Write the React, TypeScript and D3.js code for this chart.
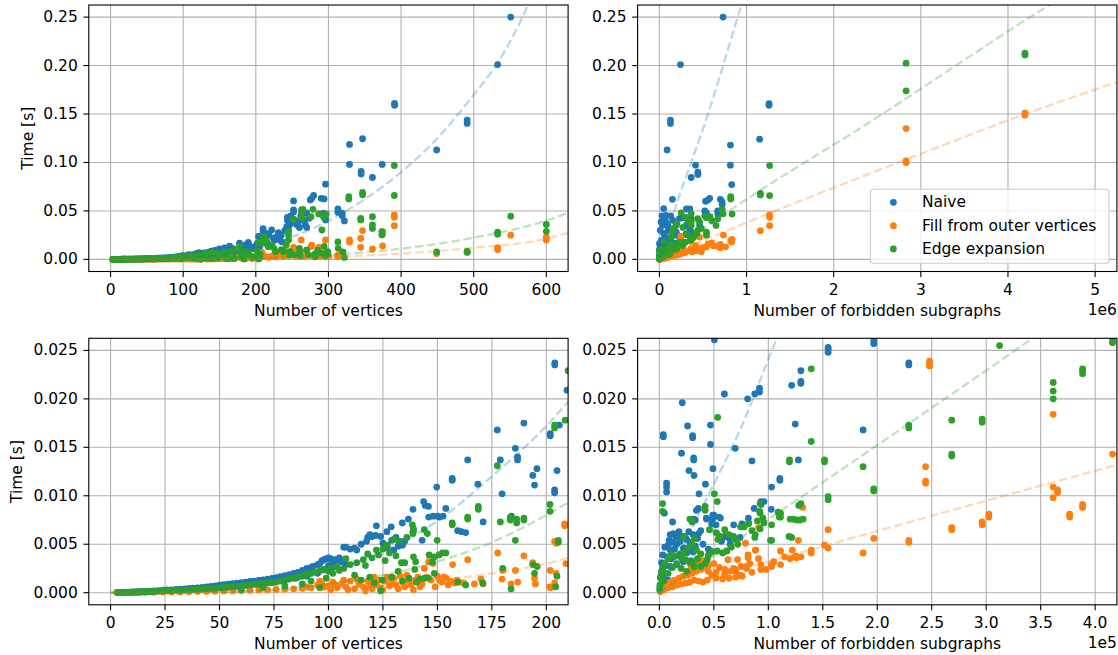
import * as d3 from "d3";

type Pt = [number, number];

// ---- axis ticks ----
const vertTicksFull = [0, 100, 200, 300, 400, 500, 600];
const vertTicksZoom = [0, 25, 50, 75, 100, 125, 150, 175, 200];
const forbTicksFull = [0, 1e6, 2e6, 3e6, 4e6, 5e6];
const forbTicksZoom = [0, 50000, 100000, 150000, 200000, 250000, 300000, 350000, 400000];
const timeTicksFull = [0, 0.05, 0.1, 0.15, 0.2, 0.25];
const timeTicksZoom = [0, 0.005, 0.01, 0.015, 0.02, 0.025];

const seriesNames = ["Naive", "Fill from outer vertices", "Edge expansion"];

// ---- time vs number of vertices ----
const vertNaive: Pt[] = [
  [3, 0.00002], [4, 0.00002], [5, 0.00003], [6, 0.00003], [7, 0.00004], [8, 0.00005], [9, 0.00006], [10, 0.00007],
  [11, 0.00008], [12, 0.00009], [13, 0.0001], [14, 0.00011], [15, 0.00012], [16, 0.00013], [17, 0.00014], [18, 0.00016],
  [19, 0.00017], [20, 0.00019], [22, 0.00022], [24, 0.00025], [26, 0.00028], [28, 0.0003], [30, 0.00033], [32, 0.00036],
  [34, 0.0004], [36, 0.00043], [38, 0.00047], [40, 0.0005], [42, 0.00055], [44, 0.0006], [46, 0.00065], [48, 0.0007],
  [50, 0.00078], [52, 0.00083], [54, 0.00088], [56, 0.00093], [58, 0.00098], [60, 0.00104], [62, 0.0011], [64, 0.00116],
  [66, 0.0012], [68, 0.00127], [70, 0.00133], [72, 0.0014], [74, 0.00148], [76, 0.00156], [78, 0.00165], [80, 0.00175],
  [82, 0.00185], [84, 0.002], [86, 0.0021], [88, 0.0023], [90, 0.0025], [92, 0.0026], [93, 0.0027], [95, 0.0029],
  [96, 0.003], [97, 0.0033], [98, 0.0034], [99, 0.0035], [100, 0.0036], [101, 0.0035], [102, 0.0031],
  [60, 0.0007], [70, 0.0009], [75, 0.0011], [80, 0.0013], [85, 0.0015], [90, 0.0017], [95, 0.002], [98, 0.0024],
  [100, 0.0028], [103, 0.0027], [104, 0.003], [105, 0.0034], [106, 0.0032], [107, 0.0047], [108, 0.0047], [110, 0.0045],
  [112, 0.0046], [103, 0.0034], [105, 0.0036], [108, 0.0029], [113, 0.0044], [115, 0.005], [117.5, 0.0053], [118, 0.0057],
  [119, 0.006], [120, 0.0058], [121.6, 0.0059], [122, 0.0069], [124, 0.0058], [125, 0.0051], [126.8, 0.0063], [127, 0.0046],
  [128.8, 0.0068], [129, 0.0054], [130, 0.0044], [131, 0.0057], [132, 0.0048], [133, 0.0053], [133.9, 0.0072], [134, 0.0049],
  [135, 0.0053], [136.7, 0.0076], [138.8, 0.0086], [138.8, 0.0063], [139, 0.0064], [143, 0.0054], [143.7, 0.0094],
  [144.4, 0.009], [145.9, 0.0089], [146, 0.0078], [148, 0.0079], [150, 0.0079], [151, 0.0078], [152.6, 0.0079],
  [149.7, 0.0109], [153.9, 0.0087], [156.8, 0.0118], [156.8, 0.0116], [159.3, 0.0064], [161, 0.0063], [163, 0.0062],
  [163.9, 0.0137], [168.6, 0.0112], [171, 0.0073], [177.5, 0.0168], [178.9, 0.0137], [179.7, 0.0102], [184, 0.0079],
  [185.8, 0.0149], [186.8, 0.014], [186.8, 0.0137], [189.7, 0.0175], [193.8, 0.0121], [194.6, 0.0111], [195.7, 0.0128],
  [201.8, 0.0164], [201.8, 0.0162], [203.8, 0.0106], [203.8, 0.0103], [203.9, 0.0237], [203.9, 0.0235], [204.9, 0.0126],
  [206, 0.0173], [209.5, 0.0209],
  [210, 0.0317], [210, 0.0293], [214, 0.025], [214, 0.02], [213, 0.027], [215, 0.024], [216, 0.017], [218, 0.026],
  [221.8, 0.0303], [222, 0.015], [224, 0.022], [226, 0.02], [228, 0.023], [231, 0.0276], [233, 0.02], [235, 0.025],
  [236, 0.018], [240, 0.03], [242.6, 0.0338], [243.5, 0.0434], [243.5, 0.04], [245, 0.0303], [247, 0.036], [248, 0.045],
  [252, 0.0603], [252, 0.051], [252, 0.049], [255, 0.04], [256, 0.036], [258, 0.038], [260, 0.0328], [262, 0.045],
  [263, 0.051], [264, 0.0434], [266, 0.04], [268, 0.036], [270, 0.033], [270, 0.048], [273.6, 0.0424], [275, 0.0614],
  [277, 0.063], [279.6, 0.066], [290, 0.063], [293, 0.0476], [294, 0.0624], [296, 0.0434], [296, 0.0407], [296, 0.0776],
  [313, 0.052], [313, 0.0486], [319, 0.0476], [319, 0.045], [322, 0.0397], [329, 0.1186], [329, 0.098], [345, 0.0907],
  [345, 0.088], [347, 0.1245], [360.6, 0.0845], [374, 0.098], [391, 0.159], [391, 0.161], [449, 0.113], [491, 0.1438],
  [491, 0.1403], [533, 0.201], [551, 0.25],
];

const vertFill: Pt[] = [
  [3, 0.00001], [5, 0.00001], [8, 0.00002], [10, 0.00002], [13, 0.00003], [16, 0.00004], [20, 0.00005], [24, 0.00006],
  [28, 0.00007], [32, 0.00008], [36, 0.0001], [40, 0.00011], [44, 0.00013], [48, 0.00015], [52, 0.00017], [56, 0.0002],
  [60, 0.00022], [64, 0.00025], [68, 0.00028], [72, 0.0003], [76, 0.00033], [80, 0.00037], [84, 0.0004], [88, 0.00045],
  [90, 0.0006], [92, 0.0005], [95, 0.0008], [96, 0.0012], [97, 0.0009], [98, 0.0006], [100, 0.0007], [101, 0.0003],
  [102, 0.0011], [103, 0.0008], [104, 0.0005], [106, 0.0009], [107, 0.0013], [108, 0.0006], [109, 0.0003], [110, 0.0012],
  [112, 0.0004], [113, 0.0014], [114, 0.0009], [116, 0.0006], [117, 0.0002], [118, 0.0012], [119, 0.0008], [120, 0.0004],
  [121, 0.0016], [122, 0.0008], [123, 0.0013], [124, 0.0005], [125, 0.0003], [126, 0.0012], [127, 0.0016], [128, 0.0007],
  [129, 0.001], [130, 0.0015], [131, 0.0008], [132, 0.0004], [133, 0.0017], [134, 0.0011], [135, 0.0006], [136, 0.0018],
  [137, 0.0012], [138, 0.0008], [139, 0.0003], [140, 0.0013], [141, 0.0016], [142, 0.0006], [143, 0.0009], [144, 0.0025],
  [145, 0.0016], [146, 0.0032], [147, 0.0013], [148, 0.003], [149, 0.0006], [150, 0.0017], [151, 0.0013], [152, 0.0011],
  [153, 0.0016], [154, 0.0015], [155, 0.0008], [156, 0.0012], [157, 0.0029], [158, 0.001], [159, 0.0013], [160, 0.0011],
  [162, 0.001], [163.9, 0.0034], [167, 0.0009], [170, 0.0014], [171, 0.0009], [177.7, 0.0041], [179.7, 0.0014],
  [180, 0.0023], [183.8, 0.0009], [185.8, 0.0023], [186.9, 0.0011], [189.7, 0.0038], [193.8, 0.0031], [194.6, 0.0015],
  [195, 0.0009], [201.5, 0.0006], [201.8, 0.0023], [202, 0.0005], [203.8, 0.001], [203.8, 0.0053], [204.5, 0.0051],
  [204.5, 0.002], [208.4, 0.0071], [208.4, 0.0069], [209, 0.003],
  [214, 0.0028], [218, 0.002], [221.8, 0.0034], [228, 0.0025], [233, 0.0045], [238, 0.003], [242.7, 0.0079],
  [245, 0.004], [251, 0.009], [252, 0.0124], [255, 0.0035], [262.5, 0.02], [262.5, 0.0079], [266, 0.003], [270, 0.0045],
  [276, 0.0131], [277, 0.0148], [280, 0.0025], [286.6, 0.0124], [288, 0.0035], [296, 0.02], [297, 0.0069], [297, 0.0055],
  [300, 0.003], [313, 0.0028], [313, 0.0045], [329, 0.02], [329, 0.018], [344.4, 0.0217], [344.4, 0.0124],
  [346.8, 0.0297], [360.6, 0.0107], [374.5, 0.0286], [374.5, 0.0262], [374.5, 0.0138], [390.7, 0.0459],
  [390.7, 0.0434], [390.7, 0.0348], [449, 0.006], [491, 0.0075], [533, 0.012], [533, 0.01], [551, 0.025],
  [600, 0.023], [600, 0.02],
];

const vertEdge: Pt[] = [
  [3, 0.00001], [4, 0.00002], [5, 0.00002], [6, 0.00003], [7, 0.00003], [8, 0.00004], [9, 0.00004], [10, 0.00005],
  [11, 0.00005], [12, 0.00006], [13, 0.00007], [14, 0.00007], [15, 0.00008], [16, 0.00009], [17, 0.0001], [18, 0.00011],
  [19, 0.00012], [20, 0.00013], [22, 0.00015], [24, 0.00017], [26, 0.00019], [28, 0.00021], [30, 0.00023], [32, 0.00025],
  [34, 0.00027], [36, 0.0003], [38, 0.00032], [40, 0.00035], [42, 0.00037], [44, 0.0004], [46, 0.00043], [48, 0.00046],
  [50, 0.0005], [52, 0.00054], [54, 0.00058], [56, 0.00062], [58, 0.00066], [60, 0.0007], [62, 0.00075], [64, 0.0008],
  [66, 0.00085], [68, 0.0009], [70, 0.00095], [72, 0.001], [74, 0.00105], [76, 0.0011], [78, 0.0012], [80, 0.0013],
  [82, 0.0014], [84, 0.0015], [86, 0.0016], [88, 0.0017], [90, 0.0019], [92, 0.002], [94, 0.0021], [96, 0.0023],
  [98, 0.0024], [100, 0.0022], [60, 0.0003], [70, 0.0005], [80, 0.0007], [88, 0.0009], [92, 0.0012], [96, 0.0005],
  [99, 0.0015], [101, 0.0025], [102, 0.002], [104, 0.0027], [105, 0.0023], [107, 0.0025], [108, 0.0035], [110, 0.0029],
  [112, 0.0018], [113, 0.0031], [115, 0.0013], [116, 0.0034], [117, 0.0028], [118, 0.004], [119, 0.0016], [120, 0.0036],
  [121, 0.001], [122, 0.0044], [123, 0.0039], [123.9, 0.0002], [124.7, 0.0013], [125, 0.0045], [126, 0.0033],
  [127, 0.0049], [128, 0.0041], [129, 0.0016], [130, 0.0055], [131, 0.0038], [132, 0.0022], [132.5, 0.0053],
  [133.5, 0.0031], [134, 0.0012], [135, 0.0031], [136, 0.0057], [137, 0.0015], [138.5, 0.007], [138.8, 0.0061],
  [139, 0.0066], [139, 0.0037], [139.6, 0.0024], [140, 0.0032], [140.5, 0.0011], [142, 0.0014], [144, 0.0065],
  [144, 0.0015], [145.4, 0.0061], [145.9, 0.0015], [146.2, 0.0039], [147.7, 0.0032], [148.5, 0.0037], [148.6, 0.002],
  [149.9, 0.0054], [150.8, 0.0039], [152.3, 0.0041], [153.9, 0.0041], [156.8, 0.0072], [156.8, 0.007], [159.3, 0.0011],
  [163, 0.0008], [163.9, 0.0078], [163.9, 0.0076], [168.8, 0.0089], [168.8, 0.0086], [170.8, 0.001], [177.5, 0.0131],
  [178.9, 0.0073], [180, 0.0025], [183.5, 0.0078], [183.5, 0.0075], [183.8, 0.0004], [185.8, 0.0054], [186.4, 0.0076],
  [186.4, 0.0072], [189.7, 0.0077], [189.7, 0.0075], [193.8, 0.0029], [194.6, 0.002], [195.8, 0.0027], [201.7, 0.0091],
  [201.7, 0.0084], [203.8, 0.0173], [203.8, 0.017], [204.3, 0.0006], [204.9, 0.0017], [205.5, 0.0054], [205.5, 0.0052],
  [208.7, 0.0178], [210, 0.0229],
  [212, 0.0228], [214, 0.02], [214, 0.0166], [217, 0.013], [219, 0.0148], [222, 0.0148], [225, 0.0114], [227, 0.0079],
  [235, 0.01], [237, 0.009], [238, 0.008], [242, 0.0148], [245, 0.02], [245, 0.0286], [245, 0.0252], [247, 0.0045],
  [247, 0.0079], [252, 0.0414], [252, 0.0045], [260, 0.0114], [260, 0.0079], [261, 0.0034], [263, 0.0483],
  [264.8, 0.0517], [264, 0.0424], [270, 0.0097], [272.7, 0.0045], [276, 0.044], [278.7, 0.0517], [281, 0.0055],
  [282, 0.0028], [285, 0.0095], [286.6, 0.0469], [290, 0.0068], [291, 0.0303], [293.5, 0.0434], [294, 0.0134],
  [295, 0.0035], [297, 0.0469], [299, 0.0079], [299, 0.0055], [313, 0.018], [313.4, 0.0114], [320, 0.0076], [322, 0.002],
  [328, 0.0648], [328, 0.0624], [344.4, 0.0424], [344.4, 0.0407], [347, 0.069], [347, 0.0666], [360.6, 0.044],
  [360.6, 0.0355], [360.6, 0.032], [373.6, 0.0286], [373.6, 0.0252], [390.7, 0.0969], [390.7, 0.0659], [449, 0.0076],
  [491, 0.0072], [491, 0.0086], [533, 0.028], [533, 0.026], [551, 0.0445], [600, 0.036], [600, 0.029],
];

// ---- time vs number of forbidden subgraphs ----
const forbNaive: Pt[] = [
  [50500, 0.0261], [154900, 0.0253], [154900, 0.0251], [154900, 0.0248], [196800, 0.026], [196800, 0.0257],
  [229000, 0.0237], [229000, 0.0235], [129900, 0.0229], [129900, 0.0218], [129900, 0.0216], [121400, 0.0214],
  [91900, 0.0211], [91900, 0.0207], [87600, 0.0205], [81000, 0.02], [59700, 0.0205], [21000, 0.0196], [124700, 0.0174],
  [187000, 0.0168], [46900, 0.0173], [46900, 0.0153], [25900, 0.0172], [30500, 0.0162], [30500, 0.016], [3600, 0.0163],
  [3600, 0.0161], [69600, 0.0149], [20300, 0.0144], [31500, 0.0139], [31500, 0.0137], [127600, 0.0137], [85000, 0.0136],
  [49200, 0.0128], [27200, 0.0126], [31800, 0.0121], [110600, 0.0118], [110600, 0.0116], [6600, 0.0113], [6600, 0.0109],
  [6600, 0.0104], [42300, 0.0112], [103000, 0.0109], [36400, 0.0102], [93200, 0.0094], [93200, 0.0091], [4600, 0.0082],
  [35800, 0.0087], [49000, 0.008], [49000, 0.0076], [43300, 0.0076], [54800, 0.0078], [81700, 0.0077], [75800, 0.0071],
  [68200, 0.007], [12100, 0.0073], [102700, 0.0086],
  [10000, 0.006], [13000, 0.0061], [17000, 0.0059], [20000, 0.0058], [9000, 0.0054], [12000, 0.0052], [16000, 0.005],
  [19000, 0.0053], [5000, 0.0047], [10000, 0.0044], [14000, 0.0045], [22000, 0.0046], [28000, 0.0047], [3000, 0.0039],
  [7000, 0.0037], [13000, 0.0037], [19000, 0.004], [25000, 0.0041], [31000, 0.0042], [2000, 0.0031], [6000, 0.0028],
  [10000, 0.0027], [16000, 0.003], [22000, 0.0032], [29000, 0.0033], [40000, 0.0032], [1000, 0.0016], [4000, 0.0014],
  [8000, 0.0013], [500, 0.0006], [2000, 0.0022], [5000, 0.002],
  [25000, 0.0055], [28000, 0.0052], [15000, 0.0057], [8000, 0.0049], [33000, 0.0048], [26000, 0.0044], [11000, 0.0035],
  [34000, 0.0085], [31000, 0.0076], [33000, 0.0075], [43000, 0.0077], [50000, 0.008], [56000, 0.0077], [48000, 0.0071],
  [52000, 0.007], [36000, 0.0061], [31000, 0.006], [27000, 0.0063], [23000, 0.0058], [18000, 0.0063], [40000, 0.005],
  [45000, 0.0045], [47000, 0.0043], [60000, 0.0058], [64000, 0.0056], [68000, 0.0057], [74000, 0.0057], [82000, 0.0072],
  [96000, 0.0094], [87000, 0.0087], [57000, 0.0053], [65000, 0.005], [35000, 0.0056], [38000, 0.0064],
  [731000, 0.25], [242000, 0.201], [127000, 0.1438], [127000, 0.1403], [88000, 0.113], [1258000, 0.159],
  [1258000, 0.1607], [1150000, 0.124], [815000, 0.118], [815000, 0.0972], [415000, 0.0972], [442000, 0.09],
  [442000, 0.0876], [365000, 0.0845], [830000, 0.0772], [150000, 0.062], [720000, 0.0593], [720000, 0.0566],
  [577000, 0.063], [530000, 0.06], [560000, 0.0615], [700000, 0.062], [50000, 0.0524], [77000, 0.0455], [310000, 0.052],
  [350000, 0.052], [520000, 0.05], [540000, 0.048], [670000, 0.05], [670000, 0.047], [365000, 0.042], [346000, 0.0324],
  [270000, 0.043], [310000, 0.043], [19000, 0.0386], [38000, 0.0352], [96000, 0.0352], [58000, 0.0266],
  [192000, 0.0283], [308000, 0.0266], [365000, 0.0283], [192000, 0.0352], [231000, 0.0421], [154000, 0.0403],
  [77000, 0.0386], [308000, 0.0352], [462000, 0.0352], [10000, 0.03], [30000, 0.045], [60000, 0.041], [100000, 0.03],
  [130000, 0.045],
];

const forbFill: Pt[] = [
  [248000, 0.0239], [248000, 0.0236], [248000, 0.0234], [361500, 0.0184], [416000, 0.0143], [244400, 0.013],
  [244400, 0.0115], [244400, 0.0113], [361500, 0.0109], [365500, 0.0106], [365500, 0.0103], [361500, 0.0098],
  [388500, 0.0091], [388500, 0.0088], [302500, 0.0081], [302500, 0.0078], [376600, 0.0081], [376600, 0.0078],
  [296300, 0.0073], [296300, 0.007], [268400, 0.0067], [268400, 0.0065], [229000, 0.0054], [229000, 0.0052],
  [196800, 0.0056], [187000, 0.0041], [154900, 0.0065], [151600, 0.0049], [154900, 0.0046], [131600, 0.0088],
  [127600, 0.0054], [139400, 0.0044], [139400, 0.0041], [130000, 0.0037], [126000, 0.0036], [120000, 0.0035],
  [122000, 0.0044], [111200, 0.0043], [111200, 0.0029], [103000, 0.0029], [103000, 0.0027], [93200, 0.0029],
  [93200, 0.0024], [88600, 0.0044], [91200, 0.0067], [81400, 0.0039], [81400, 0.0036], [71800, 0.0034], [69600, 0.0024],
  [60000, 0.0024], [53100, 0.0061], [63000, 0.0034], [79000, 0.0051], [88000, 0.0044], [91000, 0.0035], [83000, 0.003],
  [80000, 0.0027], [74000, 0.0018], [68000, 0.0025],
  [76000, 0.0017], [70000, 0.0016], [64000, 0.0015], [58000, 0.0014], [52000, 0.0015], [48000, 0.0018], [44000, 0.0013],
  [40000, 0.0011], [36000, 0.0012], [32000, 0.0013], [28000, 0.0011], [24000, 0.001], [20000, 0.0009], [16000, 0.0008],
  [12000, 0.0006], [8000, 0.0005], [4000, 0.0003], [1000, 0.0001], [2000, 0.0003], [6000, 0.0007], [10000, 0.0011],
  [14000, 0.0013], [18000, 0.0015], [22000, 0.0017], [26000, 0.0018], [30000, 0.002], [34000, 0.0022], [38000, 0.0024],
  [42000, 0.0026], [45000, 0.0028], [50000, 0.003], [55000, 0.0026], [65000, 0.0022], [80000, 0.0025], [85000, 0.0021],
  [35000, 0.003], [40000, 0.0033], [29000, 0.0027], [45000, 0.0022], [52000, 0.0021], [60000, 0.0019], [70000, 0.0022],
  [75000, 0.0027], [98000, 0.0024], [105000, 0.0032], [115000, 0.0037], [125000, 0.0038],
  [2831000, 0.135], [2831000, 0.1016], [2831000, 0.0999], [4195000, 0.1508], [4195000, 0.1488], [1265000, 0.0458],
  [1265000, 0.0434], [1265000, 0.0348], [1159000, 0.0296], [834000, 0.0207], [818000, 0.0193], [830000, 0.018],
  [735000, 0.0251], [700000, 0.0155], [666000, 0.0138], [540000, 0.013], [500000, 0.012], [460000, 0.011],
  [460000, 0.023], [600000, 0.017], [560000, 0.016], [620000, 0.014], [700000, 0.012], [760000, 0.013], [430000, 0.009],
  [480000, 0.008],
];

const forbEdge: Pt[] = [
  [312300, 0.0255], [416000, 0.026], [416000, 0.0258], [139400, 0.0231], [388500, 0.0231], [388500, 0.0229],
  [388500, 0.0226], [361500, 0.0217], [361500, 0.0208], [361500, 0.02], [53500, 0.0181], [229000, 0.0173],
  [229000, 0.017], [268400, 0.0178], [296300, 0.0179], [296300, 0.0176], [139400, 0.0156], [119400, 0.0137],
  [119400, 0.0135], [151600, 0.0137], [151600, 0.0135], [187000, 0.013], [268400, 0.0143], [268400, 0.0141],
  [196800, 0.0107], [196800, 0.0105], [50500, 0.0102], [154900, 0.0099], [154900, 0.0096], [3000, 0.0092],
  [3000, 0.0084], [53100, 0.0094], [42000, 0.0089], [42000, 0.0085], [92500, 0.0092], [92500, 0.0082], [129900, 0.0092],
  [111200, 0.0082], [111200, 0.0078], [28000, 0.0076], [30000, 0.0073], [120000, 0.0076], [123000, 0.0076],
  [126000, 0.0075], [129000, 0.0075], [132000, 0.0076], [92500, 0.0066], [81700, 0.0071], [74500, 0.0068],
  [103000, 0.007], [22000, 0.0058], [53800, 0.0055], [64000, 0.006], [68000, 0.0058], [103000, 0.0054],
  [121400, 0.0057], [87600, 0.0057],
  [72000, 0.005], [66000, 0.0047], [62000, 0.0043], [58000, 0.0041], [53000, 0.0043], [48000, 0.0042], [45000, 0.0039],
  [44000, 0.0034], [42000, 0.003], [38000, 0.0027], [32000, 0.0027], [28000, 0.0031], [24000, 0.0034], [20000, 0.0036],
  [15000, 0.0038], [11000, 0.0039], [8000, 0.0035], [5000, 0.003], [3000, 0.0025], [2000, 0.002], [1000, 0.0015],
  [500, 0.0008], [200, 0.0003], [4000, 0.0012], [8000, 0.002], [12000, 0.0026], [16000, 0.0029], [20000, 0.0025],
  [25000, 0.0022], [30000, 0.0032], [35000, 0.0035], [38000, 0.004], [26000, 0.0046], [30000, 0.005], [34000, 0.0044],
  [22000, 0.0041],
  [46000, 0.0065], [52000, 0.0062], [56000, 0.0058], [60000, 0.0065], [70000, 0.0055], [78000, 0.0068], [85000, 0.0064],
  [90000, 0.0074], [92000, 0.0084], [95000, 0.0077], [96000, 0.0072], [88000, 0.006], [32000, 0.0056],
  [109000, 0.0083], [110000, 0.0078], [119000, 0.0058], [128000, 0.009], [102000, 0.0054],
  [2831000, 0.2025], [2831000, 0.1739], [4195000, 0.2128], [4195000, 0.211], [1265000, 0.0968], [1159000, 0.0682],
  [1159000, 0.0665], [1265000, 0.0658], [818000, 0.0647], [818000, 0.0623], [834000, 0.0468], [720000, 0.0517],
  [730000, 0.047], [540000, 0.043], [580000, 0.044], [670000, 0.042], [650000, 0.035], [250000, 0.048], [365000, 0.047],
  [365000, 0.039], [365000, 0.035], [440000, 0.042], [460000, 0.039], [540000, 0.028], [540000, 0.025], [480000, 0.032],
  [150000, 0.029], [520000, 0.045], [440000, 0.03], [600000, 0.04], [300000, 0.043], [330000, 0.04], [200000, 0.037],
  [270000, 0.033], [160000, 0.032], [430000, 0.027],
];

// ---- fitted trend lines ----
const fitV1Naive: Pt[] = [[0, 0], [100, 0.0014], [200, 0.011], [300, 0.04], [400, 0.09], [450, 0.125], [500, 0.17], [534, 0.204], [575, 0.263], [590, 0.29]];
const fitV1Fill: Pt[] = [[0, 0], [200, 0.0007], [300, 0.0024], [400, 0.0061], [500, 0.012], [600, 0.0214], [630, 0.0275]];
const fitV1Edge: Pt[] = [[0, 0], [100, 0.00013], [200, 0.0012], [300, 0.0045], [400, 0.011], [500, 0.0224], [600, 0.04], [630, 0.048]];
const fitV3Naive: Pt[] = [[0, 0], [50, 0.0003], [100, 0.0022], [125, 0.0043], [150, 0.0074], [175, 0.012], [200, 0.0172], [210, 0.0197]];
const fitV3Fill: Pt[] = [[0, 0], [100, 0.00035], [125, 0.0007], [150, 0.00125], [175, 0.002], [200, 0.003], [210, 0.0036]];
const fitV3Edge: Pt[] = [[0, 0], [50, 0.00008], [100, 0.0009], [125, 0.0018], [150, 0.0032], [175, 0.0052], [200, 0.008], [210, 0.0093]];
const fitF2Naive: Pt[] = [[0, 0], [190000, 0.055], [558000, 0.15], [942000, 0.263], [1000000, 0.28]];
const fitF2Fill: Pt[] = [[0, 0], [1000000, 0.038], [2831000, 0.103], [4200000, 0.15], [5250000, 0.183]];
const fitF2Edge: Pt[] = [[0, 0], [1000000, 0.062], [2385000, 0.14], [4466000, 0.262], [4700000, 0.275]];
const fitF4Naive: Pt[] = [[0, 0], [50000, 0.0112], [74100, 0.0168], [107800, 0.0262], [115000, 0.028]];
const fitF4Fill: Pt[] = [[0, 0], [160000, 0.0051], [420000, 0.0132]];
const fitF4Edge: Pt[] = [[0, 0], [158000, 0.012], [342000, 0.0262], [360000, 0.0276]];

const colors = ["#1f77b4", "#ff7f0e", "#2ca02c"];
const FONT = "DejaVu Sans, sans-serif";
const FS = 15.5;

interface PanelProps {
  id: string;
  left: number;
  top: number;
  width: number;
  height: number;
  xDomain: [number, number];
  yDomain: [number, number];
  xTicks: number[];
  yTicks: number[];
  xFormat: (d: number) => string;
  yFormat: (d: number) => string;
  xLabel: string;
  yLabel?: string;
  yLabelX?: number;
  offsetText?: string;
  points: Pt[][];
  fits: Pt[][];
}

function Panel({
  id, left, top, width, height, xDomain, yDomain, xTicks, yTicks, xFormat, yFormat,
  xLabel, yLabel, yLabelX, offsetText, points, fits,
}: PanelProps) {
  const x = d3.scaleLinear(xDomain, [left, left + width]);
  const y = d3.scaleLinear(yDomain, [top + height, top]);
  const line = d3.line<Pt>((d) => x(d[0]), (d) => y(d[1])).curve(d3.curveMonotoneX);
  const bottom = top + height;

  return (
    <g>
      <defs>
        <clipPath id={id}>
          <rect x={left} y={top} width={width} height={height} />
        </clipPath>
      </defs>

      {/* grid */}
      <g stroke="#b0b0b0" strokeWidth={1.1}>
        {xTicks.map((t) => (
          <line key={"gx" + t} x1={x(t)} x2={x(t)} y1={top} y2={bottom} />
        ))}
        {yTicks.map((t) => (
          <line key={"gy" + t} x1={left} x2={left + width} y1={y(t)} y2={y(t)} />
        ))}
      </g>

      {/* scatter + fits */}
      <g clipPath={`url(#${id})`}>
        {points.map((s, si) => (
          <g key={si} fill={colors[si]}>
            {s.map((d, i) => (
              <circle key={i} cx={x(d[0])} cy={y(d[1])} r={3.4} />
            ))}
          </g>
        ))}
        {fits.map((f, si) => (
          <path
            key={"f" + si}
            d={line(f) || undefined}
            fill="none"
            stroke={colors[si]}
            strokeOpacity={0.3}
            strokeWidth={2.3}
            strokeDasharray="8.5,3.7"
          />
        ))}
      </g>

      {/* frame */}
      <rect x={left} y={top} width={width} height={height} fill="none" stroke="#000" strokeWidth={1.1} />

      {/* axes */}
      <g fontFamily={FONT} fontSize={FS} fill="#000">
        {xTicks.map((t) => (
          <g key={"xt" + t}>
            <line x1={x(t)} x2={x(t)} y1={bottom} y2={bottom + 5.4} stroke="#000" strokeWidth={1.1} />
            <text x={x(t)} y={bottom + 23.3} textAnchor="middle">{xFormat(t)}</text>
          </g>
        ))}
        {yTicks.map((t) => (
          <g key={"yt" + t}>
            <line x1={left - 5.4} x2={left} y1={y(t)} y2={y(t)} stroke="#000" strokeWidth={1.1} />
            <text x={left - 11} y={y(t)} textAnchor="end" dominantBaseline="central">{yFormat(t)}</text>
          </g>
        ))}
        <text x={left + width / 2} y={bottom + 44} textAnchor="middle">{xLabel}</text>
        {offsetText && (
          <text x={left + width} y={bottom + 43.5} textAnchor="end">{offsetText}</text>
        )}
        {yLabel && (
          <text
            transform={`translate(${yLabelX},${top + height / 2}) rotate(-90)`}
            textAnchor="middle"
            dominantBaseline="central"
          >
            {yLabel}
          </text>
        )}
      </g>
    </g>
  );
}

function Legend({ x, y }: { x: number; y: number }) {
  const w = 238.6;
  const h = 74;
  const rows = [13, 36.4, 59.7];
  return (
    <g fontFamily={FONT} fontSize={FS}>
      <rect x={x} y={y} width={w} height={h} rx={3} fill="#fff" fillOpacity={0.8} stroke="#cccccc" strokeWidth={1.1} />
      {seriesNames.map((name, i) => (
        <g key={name}>
          <circle cx={x + 23} cy={y + rows[i]} r={3.4} fill={colors[i]} />
          <text x={x + 51.5} y={y + rows[i]} dominantBaseline="central">{name}</text>
        </g>
      ))}
    </g>
  );
}

export default function App() {
  const colL = 88.8;
  const colR = 637.6;
  const w = 479.3;
  const row1 = 5;
  const row2 = 338.3;
  const h = 266.5;

  return (
    <svg width={1118} height={655} style={{ position: "absolute", left: 0, top: 0, background: "#fff" }}>
      <Panel
        id="p1" left={colL} top={row1} width={w} height={h}
        xDomain={[-30, 630]} yDomain={[-0.0125, 0.2625]}
        xTicks={vertTicksFull} yTicks={timeTicksFull}
        xFormat={(d) => String(d)} yFormat={(d) => d.toFixed(2)}
        xLabel="Number of vertices" yLabel="Time [s]" yLabelX={27.8}
        points={[vertNaive, vertFill, vertEdge]}
        fits={[fitV1Naive, fitV1Fill, fitV1Edge]}
      />
      <Panel
        id="p2" left={colR} top={row1} width={w} height={h}
        xDomain={[-250000, 5250000]} yDomain={[-0.0125, 0.2625]}
        xTicks={forbTicksFull} yTicks={timeTicksFull}
        xFormat={(d) => String(d / 1e6)} yFormat={(d) => d.toFixed(2)}
        xLabel="Number of forbidden subgraphs" offsetText="1e6"
        points={[forbNaive, forbFill, forbEdge]}
        fits={[fitF2Naive, fitF2Fill, fitF2Edge]}
      />
      <Panel
        id="p3" left={colL} top={row2} width={w} height={h}
        xDomain={[-10, 210]} yDomain={[-0.00125, 0.02625]}
        xTicks={vertTicksZoom} yTicks={timeTicksZoom}
        xFormat={(d) => String(d)} yFormat={(d) => d.toFixed(3)}
        xLabel="Number of vertices" yLabel="Time [s]" yLabelX={17.3}
        points={[vertNaive, vertFill, vertEdge]}
        fits={[fitV3Naive, fitV3Fill, fitV3Edge]}
      />
      <Panel
        id="p4" left={colR} top={row2} width={w} height={h}
        xDomain={[-20000, 420000]} yDomain={[-0.00125, 0.02625]}
        xTicks={forbTicksZoom} yTicks={timeTicksZoom}
        xFormat={(d) => (d / 1e5).toFixed(1)} yFormat={(d) => d.toFixed(3)}
        xLabel="Number of forbidden subgraphs" offsetText="1e5"
        points={[forbNaive, forbFill, forbEdge]}
        fits={[fitF4Naive, fitF4Fill, fitF4Edge]}
      />
      <Legend x={870.4} y={189.3} />
    </svg>
  );
}
